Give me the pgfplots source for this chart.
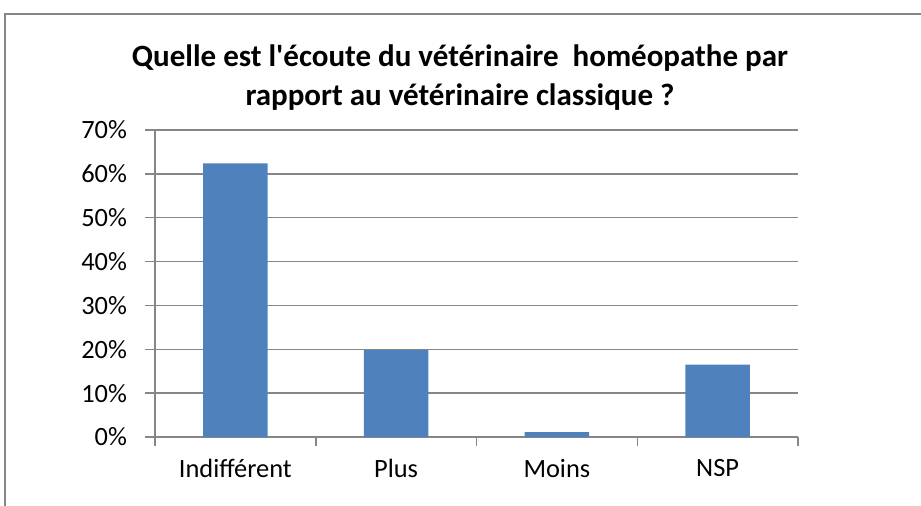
\documentclass[border=0pt]{standalone}
\usepackage{pgfplots}
\pgfplotsset{compat=1.18}
\usepackage{fontspec}
\setmainfont{Carlito}
\definecolor{barblue}{HTML}{4F81BD}
\definecolor{axgray}{HTML}{868686}
\begin{document}
\begin{tikzpicture}[x=0.5pt,y=0.5pt]
\useasboundingbox (0,0) rectangle (921,505);
\begin{scope}
\clip (0,0) rectangle (921,505);
\draw[axgray, line width=1pt] (5,-20) -- (5,491) -- (940,491);
\end{scope}
\coordinate (A) at (155,68);
\node[font=\fontsize{15.5}{18}\selectfont\bfseries] at (460,447) {Quelle est l\textquotesingle écoute du vétérinaire\ \ homéopathe par};
\node[font=\fontsize{15.5}{18}\selectfont\bfseries] at (460,408) {rapport au vétérinaire classique ?};
\begin{axis}[
  at={(A)}, anchor=south west,
  scale only axis, width=321.5pt, height=153.5pt,
  xmin=-0.5, xmax=3.5, ymin=0, ymax=70,
  axis lines=left, axis line style={axgray, line width=0.75pt, -},
  xtick={0,1,2,3}, xticklabels={Indifférent,Plus,Moins,NSP},
  major x tick style={draw=none},
  minor xtick={-0.5,0.5,1.5,2.5,3.5},
  minor x tick style={axgray, line width=0.75pt},
  minor tick length=4.5pt,
  ytick={0,10,...,70},
  yticklabel={\pgfmathprintnumber{\tick}\%},
  /pgf/number format/assume math mode=true,
  major y tick style={axgray, line width=0.75pt},
  major tick length=5pt,
  tick align=outside,
  ymajorgrids, grid style={axgray, line width=0.75pt},
  tick label style={font=\fontsize{13.2}{15}\selectfont, text=black},
  xticklabel style={yshift=-2.5pt},
  yticklabel style={xshift=-5.5pt},
  clip=false,
]
\addplot[ybar, bar width=0.4, fill=barblue, draw=none] coordinates {
  (0,62.4) (1,19.8) (2,1.1) (3,16.5)
};
\end{axis}
\end{tikzpicture}
\end{document}
